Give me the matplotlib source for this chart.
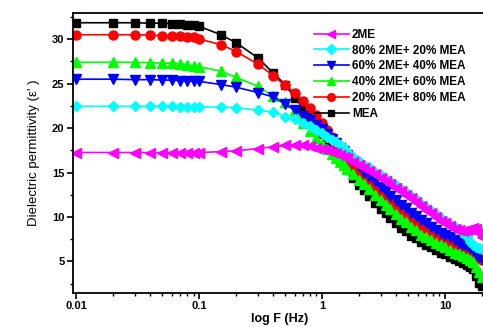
import numpy as np
import matplotlib
matplotlib.use("Agg")
import matplotlib.pyplot as plt
from matplotlib.ticker import LogLocator, FixedLocator, NullFormatter

plt.rcParams['font.family'] = ['Liberation Sans', 'DejaVu Sans']

# frequency grid (Hz)
freq = [0.01, 0.02, 0.03, 0.04, 0.05, 0.06, 0.07, 0.08, 0.09, 0.1,
        0.15, 0.2, 0.3, 0.4, 0.5, 0.6, 0.7, 0.8, 0.9, 1.0,
        1.1, 1.2, 1.3, 1.4, 1.5, 1.6, 1.8, 2.0, 2.2, 2.4, 2.7, 3.0,
        3.3, 3.6, 4.0, 4.4, 4.8, 5.3, 5.8, 6.4, 7.0, 7.7, 8.5, 9.3,
        10, 11, 12, 13, 14, 15, 16, 17, 18, 19, 20]

eps_2me = [17.25, 17.25, 17.25, 17.25, 17.25, 17.25, 17.25, 17.25, 17.25, 17.25,
           17.35, 17.45, 17.7, 17.9, 18.05, 18.1, 18.05, 17.95, 17.8, 17.65,
           17.5, 17.35, 17.2, 17.0, 16.8, 16.6, 16.2, 15.8, 15.5, 15.2, 14.8, 14.4,
           14.0, 13.7, 13.3, 12.9, 12.5, 12.1, 11.7, 11.2, 10.8, 10.4, 10.0, 9.6,
           9.3, 9.0, 8.7, 8.5, 8.4, 8.5, 8.7, 8.8, 8.6, 8.2, 7.8]

eps_80_20 = [22.45, 22.45, 22.45, 22.45, 22.45, 22.45, 22.4, 22.4, 22.4, 22.4,
             22.35, 22.3, 22.0, 21.8, 21.3, 21.0, 20.6, 20.2, 19.8, 19.4,
             19.0, 18.7, 18.4, 18.1, 17.8, 17.3, 16.8, 16.3, 15.9, 15.6, 15.1, 14.7,
             14.3, 14.0, 13.6, 13.2, 12.8, 12.4, 12.0, 11.5, 11.1, 10.7, 10.3, 9.9,
             9.6, 9.2, 8.9, 8.6, 8.2, 7.7, 7.2, 6.8, 6.6, 6.5, 6.4]

eps_60_40 = [25.5, 25.5, 25.45, 25.45, 25.4, 25.4, 25.35, 25.3, 25.3, 25.25,
             24.9, 24.6, 24.0, 23.5, 22.7, 22.0, 21.4, 20.9, 20.4, 19.9,
             19.3, 18.8, 18.3, 17.8, 17.4, 17.0, 16.3, 15.7, 15.1, 14.6, 14.0, 13.4,
             12.9, 12.4, 11.9, 11.4, 11.0, 10.5, 10.1, 9.7, 9.3, 8.9, 8.5, 8.2,
             8.0, 7.7, 7.4, 7.1, 6.9, 6.7, 6.5, 6.3, 5.8, 5.5, 5.3]

eps_40_60 = [27.4, 27.4, 27.4, 27.35, 27.3, 27.3, 27.2, 27.1, 27.0, 26.9,
             26.4, 25.7, 24.7, 23.6, 22.9, 22.0, 20.6, 19.7, 18.9, 18.2,
             17.6, 17.1, 16.6, 16.2, 15.8, 15.4, 14.8, 14.2, 13.7, 13.2, 12.5, 11.9,
             11.4, 10.9, 10.3, 9.8, 9.4, 8.9, 8.5, 8.0, 7.7, 7.4, 7.1, 6.8,
             6.6, 6.3, 6.0, 5.8, 5.6, 5.4, 5.2, 4.9, 4.4, 3.8, 3.3]

eps_20_80 = [30.5, 30.5, 30.5, 30.45, 30.4, 30.4, 30.35, 30.3, 30.2, 30.0,
             29.4, 28.6, 27.2, 25.9, 24.8, 24.0, 23.1, 22.3, 21.5, 20.6,
             19.8, 19.0, 18.3, 17.7, 17.1, 16.6, 15.8, 15.1, 14.5, 14.0, 13.3, 12.7,
             12.2, 11.7, 11.2, 10.7, 10.3, 9.8, 9.4, 9.0, 8.6, 8.3, 7.9, 7.6,
             7.4, 7.1, 6.8, 6.6, 6.4, 6.2, 6.0, 5.8, 5.6, 5.4, 5.2]

eps_mea = [31.85, 31.85, 31.85, 31.8, 31.8, 31.75, 31.7, 31.65, 31.55, 31.45,
           30.5, 29.6, 27.9, 26.2, 24.9, 23.4, 22.3, 21.3, 20.3, 19.3,
           18.5, 17.7, 17.0, 16.4, 15.8, 15.3, 14.4, 13.6, 13.0, 12.4, 11.6, 10.9,
           10.4, 9.9, 9.3, 8.8, 8.4, 7.9, 7.6, 7.2, 6.9, 6.6, 6.3, 6.0,
           5.8, 5.5, 5.25, 5.0, 4.8, 4.6, 4.4, 4.1, 3.4, 2.6, 2.2]

labels = ['2ME', '80% 2ME+ 20% MEA', '60% 2ME+ 40% MEA',
          '40% 2ME+ 60% MEA', '20% 2ME+ 80% MEA', 'MEA']
series = [eps_2me, eps_80_20, eps_60_40, eps_40_60, eps_20_80, eps_mea]
colors = ['#ff00ff', '#00ffff', '#0000ff', '#00ff00', '#ff0000', '#000000']
markers = ['<', 'D', 'v', '^', 'o', 's']
msizes = [6.5, 5.5, 6.5, 6.5, 6.5, 5.5]

fig = plt.figure(figsize=(4.83, 3.27), dpi=100)
ax = fig.add_axes([0.151, 0.104, 0.855, 0.855])

handles = []
# draw MEA first so that 2ME ends up on top
for i in range(5, -1, -1):
    h, = ax.plot(freq, series[i], color=colors[i], marker=markers[i],
                 ms=msizes[i], lw=1.2, mec=colors[i], label=labels[i])
    handles.append(h)
handles = handles[::-1]

ax.set_xscale('log')
ax.set_xlim(0.0094, 21.5)
ax.set_ylim(1.45, 32.9)

ax.xaxis.set_major_locator(FixedLocator([0.01, 0.1, 1, 10]))
ax.set_xticklabels(['0.01', '0.1', '1', '10'])
ax.xaxis.set_minor_locator(LogLocator(base=10, subs=np.arange(2, 10)))
ax.xaxis.set_minor_formatter(NullFormatter())
ax.set_yticks([5, 10, 15, 20, 25, 30])
ax.set_yticks(np.arange(2.5, 33, 5), minor=True)

ax.tick_params(which='major', direction='out', length=4, width=1.2,
               labelsize=8, pad=2)
ax.tick_params(which='minor', direction='out', length=2.5, width=1.0)
for lab in ax.get_xticklabels() + ax.get_yticklabels():
    lab.set_fontweight('bold')
for s in ax.spines.values():
    s.set_linewidth(1.3)

ax.set_xlabel('log F (Hz)', fontsize=9, fontweight='bold', labelpad=1)
ax.set_ylabel("Dielectric permittivity (\u03b5' )", fontsize=9.5, labelpad=9)

ax.legend(handles=handles, loc='upper left', bbox_to_anchor=(0.583, 0.945),
          frameon=False, prop={'size': 8.5, 'weight': 'bold'},
          handlelength=3.0, handletextpad=0.25, labelspacing=0.32,
          borderpad=0, borderaxespad=0, markerscale=0.85)

fig.savefig('out.png', dpi=100)
